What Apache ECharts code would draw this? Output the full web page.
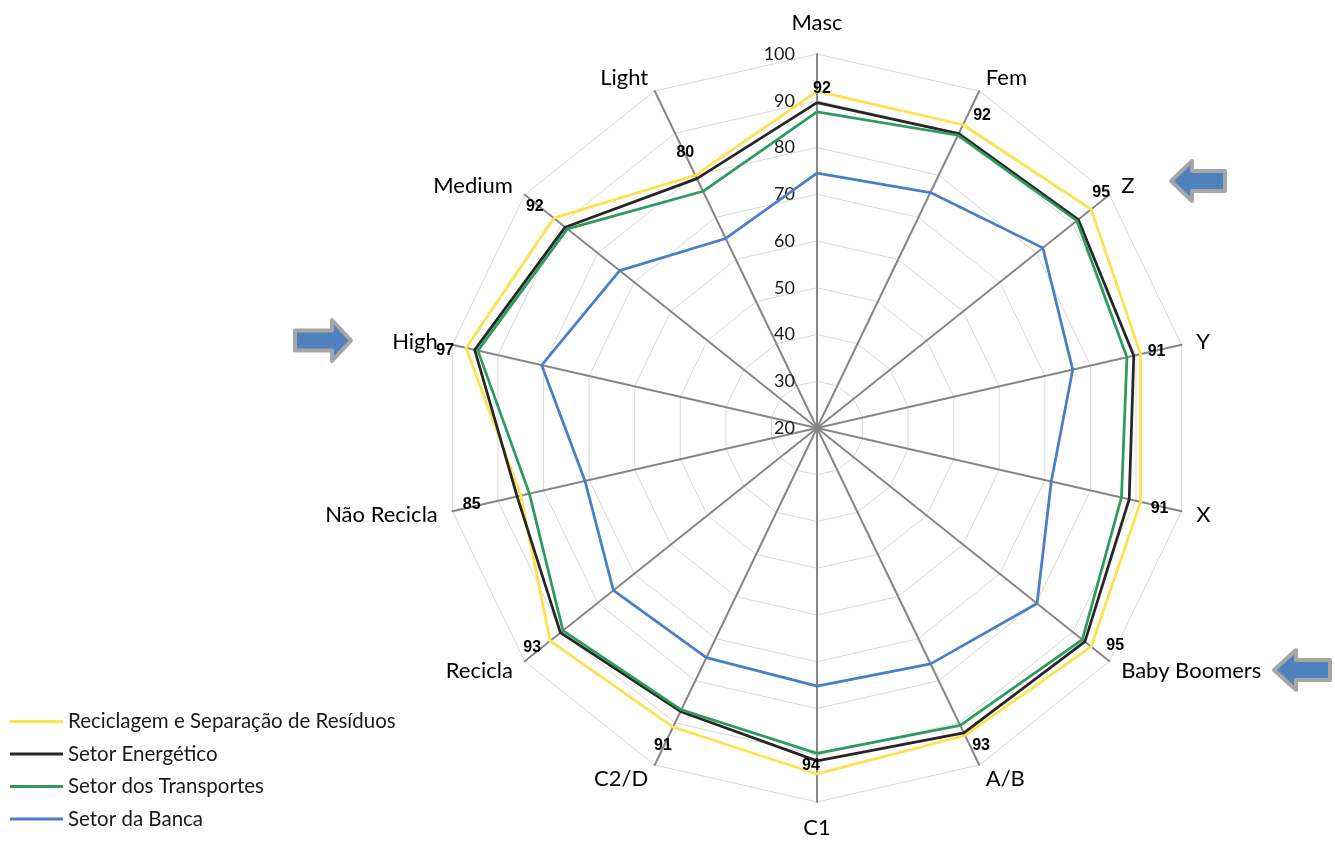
<!DOCTYPE html>
<html>
<head>
<meta charset="utf-8">
<script src="https://cdn.jsdelivr.net/npm/echarts@6/dist/echarts.min.js"></script>
<style>
  html, body { margin: 0; padding: 0; background: #ffffff; }
  #chart { width: 1335px; height: 851px; }
</style>
</head>
<body>
<div id="chart"></div>
<script>
// Profile categories, listed clockwise starting from the top axis
const categories = ['Masc', 'Fem', 'Z', 'Y', 'X', 'Baby Boomers', 'A/B', 'C1', 'C2/D',
  'Recicla', 'Não Recicla', 'High', 'Medium', 'Light'];

const seriesNames = ['Reciclagem e Separação de Resíduos', 'Setor Energético',
  'Setor dos Transportes', 'Setor da Banca'];

const reciclagem  = [92, 92, 95, 91, 91, 95, 93, 94, 91, 93, 85, 97, 92, 80];
const energetico  = [89.6, 89.9, 91.5, 89.5, 88.5, 93.3, 92.4, 91.2, 87.3, 90.2, 85.8, 95.1, 88.9, 79.2];
const transportes = [87.6, 89.5, 91.1, 88.0, 86.8, 92.6, 90.6, 89.6, 86.9, 89.5, 83.1, 94.4, 88.3, 76.2];
const banca       = [74.5, 75.9, 81.8, 76.1, 71.4, 80.2, 76.0, 75.2, 74.5, 75.7, 70.9, 80.4, 74.0, 65.0];

// Radial scale
const axisMin = 20;
const axisMax = 100;
const axisStep = 10;

// Layout and style
const CX = 817, CY = 428, RADIUS = 374;
const FONT = 'Lato';
const COLORS = ['#FFE04D', '#262626', '#2E9A5D', '#4A7FC6'];
// Nudges for the value labels on the first series (per category, clockwise)
const labelNudge = [[5, -3], [19, -9], [10, -17], [16, -3], [19, 7], [24, -1], [16, 10],
  [-6, -8], [-10, 19], [-18, 7], [-49, 9], [-21, 3], [-19, -12], [-10, -23]];

// ECharts lays radar indicators out counter-clockwise; reorder so the
// categories run clockwise from the top.
function toRadarOrder(arr) {
  return [arr[0]].concat(arr.slice(1).reverse());
}

const radarIndex = toRadarOrder(categories.map((c, i) => i));
const indicator = radarIndex.map((i, k) => {
  const ind = { name: categories[i], min: axisMin, max: axisMax };
  if (k === 0) {
    ind.nameGap = 20;
    ind.axisLabel = {
      show: true, margin: 22, color: '#1a1a1a', fontFamily: FONT, fontSize: 18,
      showMinLabel: true, showMaxLabel: true
    };
  }
  return ind;
});

const allSeries = [reciclagem, energetico, transportes, banca];

function nudgeValueLabel(p) {
  const r = p.rect;
  const px = r.x + r.width / 2;
  const py = r.y + r.height / 2;
  let a = Math.atan2(px - CX, CY - py) * 180 / Math.PI;
  if (a < 0) a += 360;
  const i = Math.round(a / (360 / categories.length)) % categories.length;
  const n = labelNudge[i];
  return { dx: n[0], dy: n[1] };
}

const chart = echarts.init(document.getElementById('chart'), null, { renderer: 'canvas' });

const arrowStyle = { fill: '#4F81BD', stroke: '#A6A6A6', lineWidth: 4, lineJoin: 'round' };
function leftArrow(x0, y0, x1, y1, headBack, shaftHalf) {
  const ym = (y0 + y1) / 2;
  return [[x0, ym], [headBack, y0], [headBack, ym - shaftHalf], [x1, ym - shaftHalf],
    [x1, ym + shaftHalf], [headBack, ym + shaftHalf], [headBack, y1]];
}
function rightArrow(x0, y0, x1, y1, headBack, shaftHalf) {
  const ym = (y0 + y1) / 2;
  return [[x1, ym], [headBack, y0], [headBack, ym - shaftHalf], [x0, ym - shaftHalf],
    [x0, ym + shaftHalf], [headBack, ym + shaftHalf], [headBack, y1]];
}

chart.setOption({
  animation: false,
  backgroundColor: '#ffffff',
  legend: {
    orient: 'vertical',
    left: 5,
    top: 706,
    itemGap: 11.5,
    itemWidth: 53,
    itemHeight: 3,
    icon: 'rect',
    textStyle: { fontFamily: FONT, fontSize: 20.5, color: '#1a1a1a', lineHeight: 21 },
    data: seriesNames
  },
  radar: {
    center: [CX, CY],
    radius: RADIUS,
    startAngle: 90,
    shape: 'polygon',
    splitNumber: (axisMax - axisMin) / axisStep,
    nameGap: 15,
    axisName: { color: '#000000', fontFamily: FONT, fontSize: 22 },
    axisLine: { lineStyle: { color: '#878787', width: 2 } },
    axisTick: { show: false },
    axisLabel: { show: false },
    splitLine: { lineStyle: { color: '#D9D9D9', width: 1 } },
    splitArea: { show: false },
    indicator: indicator
  },
  series: allSeries.map((vals, s) => ({
    type: 'radar',
    symbol: s === 0 ? 'circle' : 'none',
    symbolSize: 1,
    lineStyle: { color: COLORS[s], width: 2.75 },
    itemStyle: { color: COLORS[s] },
    label: s === 0 ? {
      show: true, position: 'inside', color: '#000000',
      fontFamily: 'Liberation Sans', fontWeight: 'bold', fontSize: 16
    } : { show: false },
    labelLayout: s === 0 ? nudgeValueLabel : undefined,
    data: [{ name: seriesNames[s], value: toRadarOrder(vals) }]
  })),
  graphic: [
    { type: 'polygon', shape: { points: leftArrow(1171, 161, 1225, 201, 1192, 10) }, style: arrowStyle },
    { type: 'polygon', shape: { points: rightArrow(295, 320, 351, 361, 332, 10) }, style: arrowStyle },
    { type: 'polygon', shape: { points: leftArrow(1274, 650, 1330, 690, 1296, 10) }, style: arrowStyle }
  ]
});
</script>
</body>
</html>
